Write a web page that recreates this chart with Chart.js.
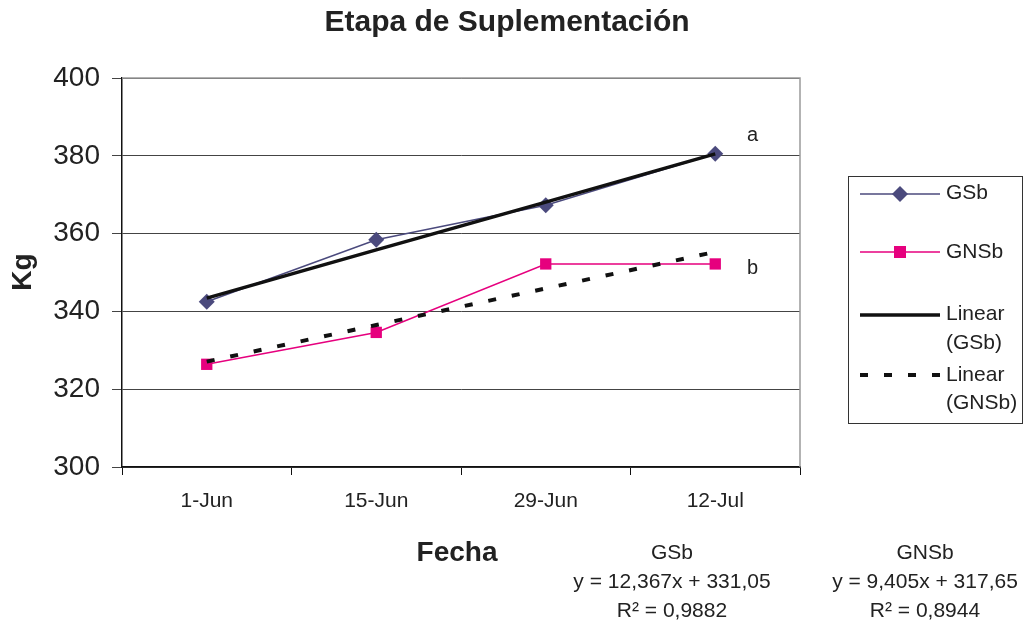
<!DOCTYPE html>
<html>
<head>
<meta charset="utf-8">
<script src="https://cdn.jsdelivr.net/npm/chart.js@4.4.0/dist/chart.umd.min.js"></script>
<style>
  html, body { margin: 0; padding: 0; background: #fff; }
  #wrap { width: 1027px; height: 624px; position: relative; }
</style>
</head>
<body>
<div id="wrap"><canvas id="lineChart" width="1027" height="624"></canvas></div>
<script>
var fechas = ['1-Jun', '15-Jun', '29-Jun', '12-Jul'];
var gsb = [342.5, 358.4, 367.3, 380.5];
var gnsb = [326.4, 334.6, 352.2, 352.2];
// lineas de tendencia
var linearGsb = [343.4, 355.8, 368.1, 380.5];
var linearGnsb = [327.1, 336.5, 345.9, 355.3];
var yTicks = [300, 320, 340, 360, 380, 400];

var FONT = "'Liberation Sans', Arial, sans-serif";

var extras = {
    id: 'extras',
    afterDraw: function (chart) {
        var c = chart.ctx;
        var a = chart.chartArea;
        c.save();
        // borde del area de trazado
        c.strokeStyle = '#9a9a9a';
        c.lineWidth = 1.5;
        c.beginPath();
        c.moveTo(a.left, a.top);
        c.lineTo(a.right, a.top);
        c.lineTo(a.right, a.bottom);
        c.stroke();

        c.fillStyle = '#222';
        c.textAlign = 'center';
        c.textBaseline = 'middle';
        c.font = 'bold 30px ' + FONT;
        c.fillText('Etapa de Suplementación', 507, 23);

        c.save();
        c.translate(23, 272);
        c.rotate(-Math.PI / 2);
        c.font = 'bold 28px ' + FONT;
        c.fillText('Kg', 0, 0);
        c.restore();

        c.font = '20px ' + FONT;
        c.textAlign = 'left';
        c.fillText('a', 747, 135);
        c.fillText('b', 747, 268);

        c.textAlign = 'center';
        c.font = 'bold 28px ' + FONT;
        c.fillText('Fecha', 457, 553);
        c.font = '21px ' + FONT;
        c.fillText('GSb', 672, 553);
        c.fillText('y = 12,367x + 331,05', 672, 582);
        c.fillText('R² = 0,9882', 672, 611);
        c.fillText('GNSb', 925, 553);
        c.fillText('y = 9,405x + 317,65', 925, 582);
        c.fillText('R² = 0,8944', 925, 611);

        // leyenda
        c.strokeStyle = '#333';
        c.lineWidth = 1;
        c.strokeRect(848.5, 176.5, 174, 247);
        var x0 = 860, x1 = 940;
        c.lineWidth = 1.5;
        c.strokeStyle = '#4b4a7d';
        c.beginPath(); c.moveTo(x0, 194); c.lineTo(x1, 194); c.stroke();
        c.fillStyle = '#4b4a7d';
        c.beginPath();
        c.moveTo(900, 186); c.lineTo(908, 194); c.lineTo(900, 202); c.lineTo(892, 194);
        c.closePath(); c.fill();
        c.strokeStyle = '#e6007e';
        c.beginPath(); c.moveTo(x0, 252); c.lineTo(x1, 252); c.stroke();
        c.fillStyle = '#e6007e';
        c.fillRect(894, 246, 12, 12);
        c.strokeStyle = '#111';
        c.lineWidth = 3.5;
        c.beginPath(); c.moveTo(x0, 315); c.lineTo(x1, 315); c.stroke();
        c.setLineDash([8, 16]);
        c.lineWidth = 4;
        c.beginPath(); c.moveTo(x0, 375); c.lineTo(x1, 375); c.stroke();
        c.setLineDash([]);

        c.fillStyle = '#222';
        c.textAlign = 'left';
        c.font = '21px ' + FONT;
        c.fillText('GSb', 946, 193);
        c.fillText('GNSb', 946, 252);
        c.fillText('Linear', 946, 314);
        c.fillText('(GSb)', 946, 343);
        c.fillText('Linear', 946, 375);
        c.fillText('(GNSb)', 946, 403);
        c.restore();
    }
};

var ctx = document.getElementById('lineChart').getContext('2d');
var myChart = new Chart(ctx, {
    type: 'line',
    data: {
        labels: fechas,
        datasets: [{
                label: 'GSb',
                data: gsb,
                borderColor: '#4b4a7d',
                backgroundColor: '#4b4a7d',
                borderWidth: 1.5,
                pointStyle: 'rectRot',
                pointRadius: 8,
                pointBorderWidth: 0,
                order: 1
            },
            {
                label: 'GNSb',
                data: gnsb,
                borderColor: '#e6007e',
                backgroundColor: '#e6007e',
                borderWidth: 1.5,
                pointStyle: 'rect',
                pointRadius: 8,
                pointBorderWidth: 0,
                order: 1
            },
            {
                label: 'Linear (GSb)',
                data: linearGsb,
                borderColor: '#111',
                borderWidth: 3.5,
                pointRadius: 0,
                order: 0
            },
            {
                label: 'Linear (GNSb)',
                data: linearGnsb,
                borderColor: '#111',
                borderWidth: 4,
                borderDash: [8, 16],
                pointRadius: 0,
                order: 0
            }
        ]
    },
    options: {
        responsive: false,
        animation: false,
        layout: {
            padding: { left: 0, right: 227, top: 78, bottom: 107 }
        },
        plugins: {
            legend: { display: false },
            title: { display: false },
            tooltip: { enabled: false }
        },
        scales: {
            x: {
                offset: true,
                grid: {
                    offset: true,
                    drawOnChartArea: false,
                    color: '#111',
                    tickLength: 8
                },
                border: { color: '#111', width: 1.5 },
                ticks: {
                    color: '#222',
                    font: { family: FONT, size: 21 },
                    padding: 14
                },
                afterFit: function (s) { s.height = 50; }
            },
            y: {
                min: 300,
                max: 400,
                afterBuildTicks: function (s) {
                    s.ticks = yTicks.map(function (v) { return { value: v }; });
                },
                grid: {
                    color: '#444',
                    lineWidth: 1,
                    tickLength: 10
                },
                border: { color: '#111', width: 1.5 },
                ticks: {
                    color: '#222',
                    font: { family: FONT, size: 28 },
                    padding: 12
                },
                afterFit: function (s) { s.width = 122; }
            }
        }
    },
    plugins: [extras]
});
</script>
</body>
</html>
